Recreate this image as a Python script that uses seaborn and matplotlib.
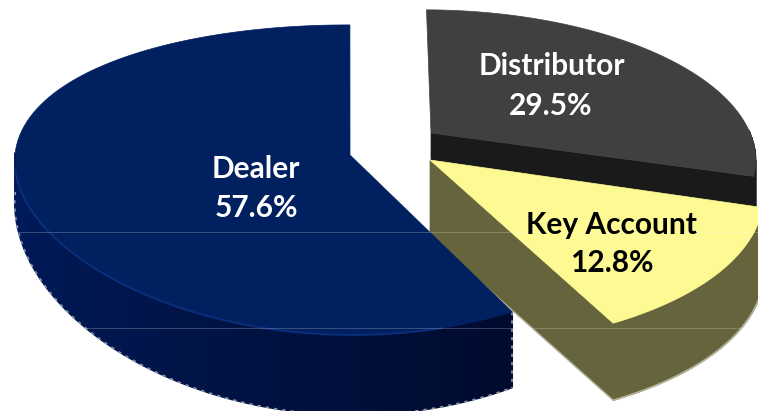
import numpy as np
import matplotlib
matplotlib.use("Agg")
import matplotlib.pyplot as plt
import seaborn as sns

# --- Data ---
categories = ["Dealer", "Key Account", "Distributor"]
shares = [57.6, 12.8, 29.5]
label_text = ["57.6%", "12.8%", "29.5%"]

# --- Look ---
top_colors = {"Dealer": "#002060", "Key Account": "#fdfa94", "Distributor": "#404040"}
side_colors = {"Dealer": ["#001b5e", "#001447", "#000a2c"],
               "Key Account": ["#65643c", "#65643c"],
               "Distributor": ["#1a1a1a", "#1a1a1a"]}
text_colors = {"Dealer": "white", "Key Account": "black", "Distributor": "white"}

# perspective for each exploded slice, in pixels
K = 0.161
layout = {
    "Dealer": dict(cx=350, cy=155, a=335, b=151, s=-3, kx=0.05),
    "Key Account": dict(cx=430, cy=160, a=327, b=157, s=-2, kx=0.20),
    "Distributor": dict(cx=431, cy=133, a=319, b=143, s=-8, kx=K),
}
label_pos = {"Dealer": (256, 169), "Key Account": (611, 225), "Distributor": (552, 66)}
value_pos = {"Dealer": (256, 208), "Key Account": (612, 263), "Distributor": (551, 106)}


def project(theta, lay):
    # unit circle to screen, front of the pie is nearer so it comes out bigger
    u, v = np.cos(np.radians(theta)), np.sin(np.radians(theta))
    x = lay["cx"] + (lay["a"] * u + lay["s"] * v) / (1 + lay["kx"] * v)
    y = lay["cy"] - lay["b"] * v / (1 + K * v)
    return x, y


def wall_depth(name, theta):
    if name == "Dealer":
        return 40 - 40 * np.sin(np.radians(theta))
    return 77 * np.ones_like(theta)


sns.set_theme(style="white")
plt.rcParams["font.family"] = ["Lato", "DejaVu Sans"]

fig, ax = plt.subplots(figsize=(7.58, 4.11), dpi=100)
fig.subplots_adjust(0, 0, 1, 1)

# the pie only gives the slice angles, then it gets reprojected
wedges, _ = ax.pie(shares, startangle=89.5, counterclock=True)
angles = {c: (w.theta1, w.theta2) for c, w in zip(categories, wedges)}
for w in wedges:
    w.remove()
ax.set_aspect("auto")
ax.set_xlim(0, 758)
ax.set_ylim(411, 0)
ax.axis("off")

for name in ["Dealer", "Distributor", "Key Account"]:
    lay = layout[name]
    t1, t2 = angles[name]
    theta = np.linspace(t1, t2, 300)
    xs, ys = project(theta, lay)
    depth = wall_depth(name, theta)

    # straight cut face, only the ones turned to the viewer
    if name in ("Distributor", "Key Account"):
        x0, y0 = xs[0], ys[0]
        d = depth[0]
        ax.fill([lay["cx"], x0, x0, lay["cx"]], [lay["cy"], y0, y0 + d, lay["cy"] + d],
                color=side_colors[name][0], lw=0.5, zorder=2)

    # outer wall, a little darker towards the right, in coarse bands
    front = np.sin(np.radians(theta)) < 0.02
    idx = np.where(front)[0]
    bands = idx[::6]
    if bands[-1] != idx[-1]:
        bands = np.r_[bands, idx[-1]]
    pal = sns.blend_palette(side_colors[name], len(bands))
    for n in range(len(bands) - 1):
        i, j = bands[n], bands[n + 1]
        seg = np.arange(i, j + 1)
        ax.fill(np.r_[xs[seg], xs[seg][::-1]],
                np.r_[ys[seg], (ys[seg] + depth[seg])[::-1]],
                color=pal[n], lw=1.0, zorder=2)

    # rough light edge under the wall
    if name == "Dealer":
        ax.plot(xs[idx], ys[idx] + depth[idx], color="#8b94ad", lw=1.2,
                ls=(0, (2, 3)), zorder=3)
        ax.plot([xs[-1], xs[-1]], [ys[-1], ys[-1] + depth[-1]], color="#8b94ad", lw=1.2,
                ls=(0, (2, 3)), zorder=3)
    if name == "Key Account":
        ax.plot(xs[idx], ys[idx] + depth[idx], color="#b5b49c", lw=1.2, zorder=3)
        ax.plot([xs[0], lay["cx"]], [ys[0] + depth[0], lay["cy"] + depth[0]],
                color="#b5b49c", lw=1.0, zorder=3)

    # top face
    ax.fill(np.r_[lay["cx"], xs], np.r_[lay["cy"], ys], color=top_colors[name], lw=0.5, zorder=4)

    if name == "Dealer":
        rim = (theta > 185) & (theta < 285)
        ax.plot(xs[rim], ys[rim], color="#0d3384", lw=1.4, alpha=0.8, zorder=5)

    ax.text(*label_pos[name], name, color=text_colors[name], fontsize=21.5, fontweight="bold",
            ha="center", va="center", zorder=7)
    i = categories.index(name)
    ax.text(*value_pos[name], label_text[i], color=text_colors[name], fontsize=21.5,
            fontweight="bold", ha="center", va="center", zorder=7)

# faint scan lines that run across the picture
for y in [232, 328]:
    ax.axhline(y, color="white", lw=0.7, alpha=0.22, zorder=6)

fig.savefig("out.png", dpi=100)
plt.close(fig)
